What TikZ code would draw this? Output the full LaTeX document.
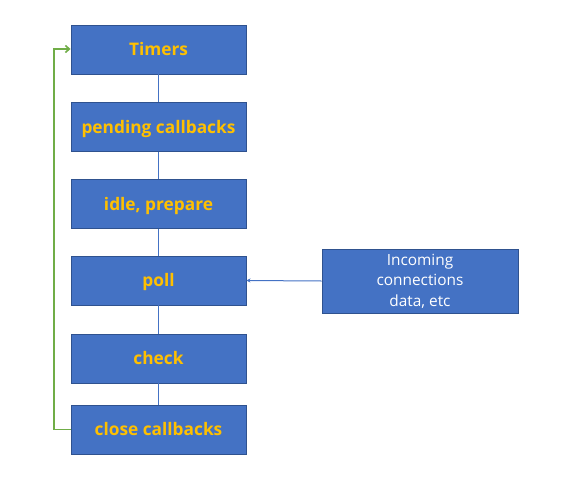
\documentclass[tikz,border=0pt]{standalone}
\usepackage{fontspec}
\setmainfont{Open Sans}
\usepackage{xcolor}
\usetikzlibrary{arrows.meta,positioning}

\definecolor{boxblue}{HTML}{4472C4}
\definecolor{boxedge}{HTML}{2F528F}
\definecolor{phasegold}{HTML}{FFC000}
\definecolor{loopgreen}{HTML}{70AD47}

\newcommand{\phasefont}{\fontsize{17.3pt}{19pt}\selectfont\bfseries}
\newcommand{\sourcefont}{\fontsize{15.4pt}{20.5pt}\selectfont}

\tikzset{
  phasebox/.style={draw=boxedge,fill=boxblue,line width=0.9pt,minimum width=175pt,
    minimum height=49pt,inner sep=0pt,text=phasegold,font=\phasefont,
    text height=12.4pt,text depth=0pt},
  sourcebox/.style={draw=boxedge,fill=boxblue,line width=0.9pt,minimum width=196pt,
    minimum height=64pt,inner sep=0pt,text=white,align=center,font=\sourcefont},
  link/.style={draw=boxblue,line width=1.5pt}
}

\begin{document}
\begin{tikzpicture}[x=1pt,y=-1pt]
  \useasboundingbox (0,0) rectangle (568,485);

  % Phases of the loop
  \node[phasebox] (timers)  at (158.5,49.5)  {Timers};
  \node[phasebox] (pending) at (158.5,127)   {pending callbacks};
  \node[phasebox] (idle)    at (158.5,204)   {idle, prepare};
  \node[phasebox] (poll)    at (158.5,280.5) {poll};
  \node[phasebox] (check)   at (158.5,358.5) {check};
  \node[phasebox] (close)   at (158.5,429.5) {close callbacks};

  % Incoming events
  \node[sourcebox] (incoming) at (420,281) {Incoming\\connections\\data, etc};

  % Links between phases
  \foreach \a/\b in {timers/pending,pending/idle,idle/poll,poll/check,check/close}{
    \draw[link] (\a.south) -- (\b.north);
  }

  \draw[draw=boxblue,line width=1pt,-{Stealth[length=4pt,width=4pt]}]
    (incoming.west) -- (poll.east);

  % Loop back
  \coordinate (backbottom) at (54,429.5);
  \coordinate (backtop) at (54,49);
  \draw[loopgreen,line width=1.6pt,-{Straight Barb[length=4pt,width=7pt]}]
    (close.west) -- (backbottom) -- (backtop) -- (timers.west |- backtop);

\end{tikzpicture}
\end{document}
